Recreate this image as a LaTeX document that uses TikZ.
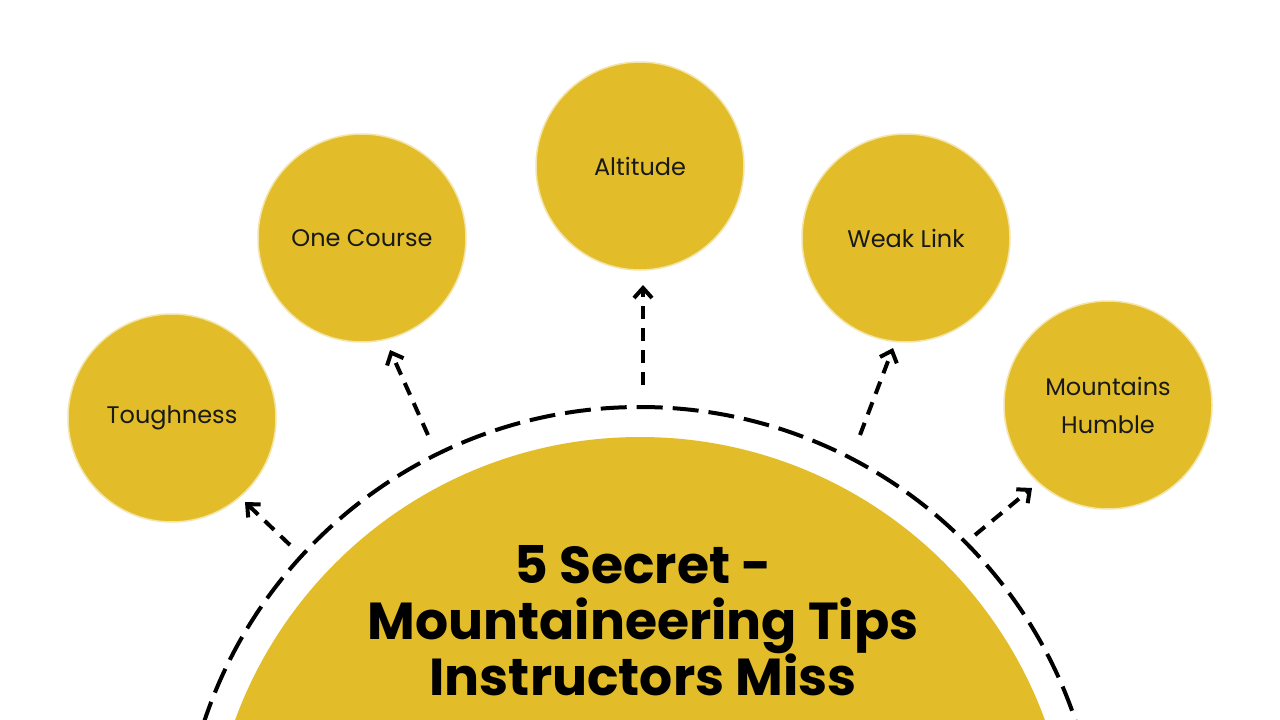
\documentclass[tikz,border=0pt]{standalone}
\usepackage{fontspec}
\setmainfont{Poppins}
\usetikzlibrary{arrows.meta}
\definecolor{gold}{HTML}{E2BD29}
\begin{document}
\begin{tikzpicture}[x=1pt,y=-1pt,
  tip/.style={circle,fill=gold,draw=gold!40!white,line width=1.5pt,minimum size=208pt,inner sep=0pt,align=center,font=\fontsize{24}{38}\selectfont\color{black!90}},
  conn/.style={line width=4pt,dash pattern=on 13pt off 9pt,-{Straight Barb[length=10pt,width=18pt,line width=4pt]}}]
\useasboundingbox (0,0) rectangle (1280,720);
\fill[white] (0,0) rectangle (1280,720);
\begin{scope}
\clip (0,0) rectangle (1280,720);
\fill[gold] (640,868) circle (431);
\draw[line width=4pt,dash pattern=on 26pt off 10pt] (640,866) circle (459);
\end{scope}
\node[align=center,font=\fontsize{52}{56}\selectfont\bfseries] (title) at (643,621) {5 Secret -\\Mountaineering Tips\\Instructors Miss};
\node[tip] (alt) at (640,166) {Altitude};
\node[tip] (one) at (362,238) {One Course};
\node[tip] (weak) at (906,238) {Weak Link};
\node[tip] (tough) at (172,418) {Toughness};
\node[tip] (mount) at (1108,405) {Mountains\\Humble};
\coordinate (a1) at (643,385); \coordinate (a2) at (643,285);
\coordinate (b1) at (428,435); \coordinate (b2) at (390,350);
\coordinate (c1) at (860,435); \coordinate (c2) at (893,348);
\coordinate (d1) at (290,545); \coordinate (d2) at (245,502);
\coordinate (e1) at (975,535); \coordinate (e2) at (1032,488);
\draw[conn] (a1) -- (a2);
\draw[conn] (b1) -- (b2);
\draw[conn] (c1) -- (c2);
\draw[conn] (d1) -- (d2);
\draw[conn] (e1) -- (e2);
\end{tikzpicture}
\end{document}
